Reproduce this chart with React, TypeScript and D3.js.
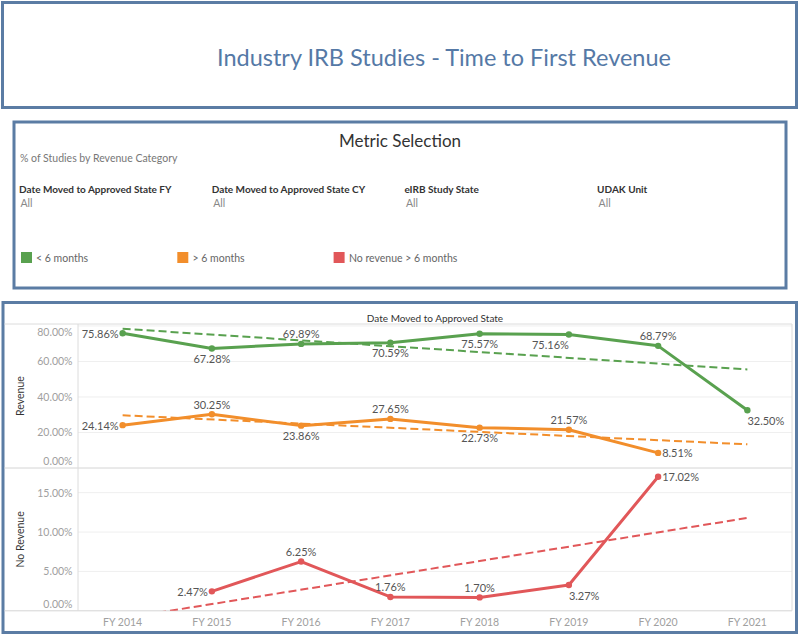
import React from "react";
import * as d3 from "d3";

// ---------- DATA ----------
const years = ["FY 2014", "FY 2015", "FY 2016", "FY 2017", "FY 2018", "FY 2019", "FY 2020", "FY 2021"];
const lessThan6Months: (number | null)[] = [0.7586, 0.6728, 0.6989, 0.7059, 0.7557, 0.7516, 0.6879, 0.325];
const moreThan6Months: (number | null)[] = [0.2414, 0.3025, 0.2386, 0.2765, 0.2273, 0.2157, 0.0851, null];
const noRevenue6Months: (number | null)[] = [null, 0.0247, 0.0625, 0.0176, 0.017, 0.0327, 0.1702, null];
const revenueTicks = [0, 0.2, 0.4, 0.6, 0.8];
const noRevenueTicks = [0, 0.05, 0.1, 0.15];
const filterLabels = ["Date Moved to Approved State FY", "Date Moved to Approved State CY", "eIRB Study State", "UDAK Unit"];
const filterValues = ["All", "All", "All", "All"];
const legendLabels = ["< 6 months", "> 6 months", "No revenue > 6 months"];

// label placement (style): L=left, R=right, A=above, B=below, BL=below ending at point, BR=below starting at point
const lessPlacement = ["L", "B", "A", "B", "B", "BL", "A", "BR"];
const morePlacement = ["L", "A", "B", "A", "B", "A", "R", ""];
const noRevPlacement = ["", "L", "A", "A", "A", "BR", "R", ""];

const GREEN = "#59a14f";
const ORANGE = "#f28e2b";
const RED = "#e15759";
const BORDER = "#5b7ca4";
const FONT = "Lato, 'Open Sans', sans-serif";

const fmt = d3.format(".2%");

function regression(vals: (number | null)[]) {
  const pts = vals.map((v, i) => [i, v] as [number, number | null]).filter((p) => p[1] != null) as [number, number][];
  const mx = d3.mean(pts, (p) => p[0])!;
  const my = d3.mean(pts, (p) => p[1])!;
  const sxy = d3.sum(pts, (p) => (p[0] - mx) * (p[1] - my));
  const sxx = d3.sum(pts, (p) => (p[0] - mx) * (p[0] - mx));
  const slope = sxy / sxx;
  return (i: number) => my + slope * (i - mx);
}

export default function App() {
  const W = 800;
  const H = 638;
  const plotL = 78;
  const plotR = 792;
  const topT = 324;
  const split = 468;
  const botB = 610.8;

  const x = d3.scaleBand<string>().domain(years).range([plotL, plotR]).padding(0);
  const cx = (i: number) => x(years[i])! + x.bandwidth() / 2;
  const yTop = d3.scaleLinear().domain([0, 0.811]).range([split, topT]);
  const yBot = d3.scaleLinear().domain([0, 0.1813]).range([botB, split]);

  const series = [
    { vals: lessThan6Months, color: GREEN, y: yTop, place: lessPlacement, clip: "clipTop" },
    { vals: moreThan6Months, color: ORANGE, y: yTop, place: morePlacement, clip: "clipTop" },
    { vals: noRevenue6Months, color: RED, y: yBot, place: noRevPlacement, clip: "clipBot" },
  ];

  const line = (y: d3.ScaleLinear<number, number>) =>
    d3
      .line<number | null>()
      .defined((d) => d != null)
      .x((_, i) => cx(i))
      .y((d) => y(d as number));

  const labelProps = (p: string, px: number, py: number) => {
    switch (p) {
      case "L":
        return { x: px - 4, y: py, anchor: "end" };
      case "R":
        return { x: px + 4, y: py, anchor: "start" };
      case "A":
        return { x: px, y: py - 10, anchor: "middle" };
      case "B":
        return { x: px, y: py + 10, anchor: "middle" };
      case "BL":
        return { x: px, y: py + 10, anchor: "end" };
      case "BR":
        return { x: px, y: py + 10.5, anchor: "start" };
      default:
        return { x: px, y: py, anchor: "middle" };
    }
  };

  const tickLabelY = (pos: number, top: number, bottom: number) => Math.max(top + 7.5, Math.min(bottom - 7, pos));

  return (
    <svg width={W} height={H} style={{ position: "absolute", left: 0, top: 0, background: "#fff" }} fontFamily={FONT}>
      <defs>
        <clipPath id="clipTop">
          <rect x={plotL} y={topT} width={plotR - plotL} height={split - topT} />
        </clipPath>
        <clipPath id="clipBot">
          <rect x={plotL} y={split} width={plotR - plotL} height={botB - split} />
        </clipPath>
      </defs>

      {/* Title panel */}
      <rect x={2.5} y={2.5} width={794} height={105} fill="#fff" stroke={BORDER} strokeWidth={3} />
      <text x={444} y={57} textAnchor="middle" dominantBaseline="central" fontSize={23.5} fill="#5579a6">
        Industry IRB Studies - Time to First Revenue
      </text>

      {/* Metric selection panel */}
      <rect x={14} y={122} width={772} height={166} fill="#fff" stroke={BORDER} strokeWidth={3} />
      <text x={400} y={140} textAnchor="middle" dominantBaseline="central" fontSize={17} fill="#333">
        Metric Selection
      </text>
      <text x={20} y={158} dominantBaseline="central" fontSize={10.5} fill="#777">
        % of Studies by Revenue Category
      </text>
      {filterLabels.map((f, i) => (
        <g key={f}>
          <text x={19 + i * 192.7} y={188.5} dominantBaseline="central" fontSize={10} fontWeight="bold" fill="#333">
            {f}
          </text>
          <text x={20.5 + i * 192.7} y={202.5} dominantBaseline="central" fontSize={10.5} fill="#888">
            {filterValues[i]}
          </text>
        </g>
      ))}
      {legendLabels.map((l, i) => (
        <g key={l}>
          <rect x={21 + i * 156.3} y={252} width={11} height={11} fill={[GREEN, ORANGE, RED][i]} />
          <text x={36 + i * 156.5} y={257.5} dominantBaseline="central" fontSize={10.5} fill="#666">
            {l}
          </text>
        </g>
      ))}

      {/* Chart panel */}
      <rect x={3} y={302.5} width={793.5} height={330} fill="#fff" stroke={BORDER} strokeWidth={3} />
      <text x={(plotL + plotR) / 2} y={317.5} textAnchor="middle" dominantBaseline="central" fontSize={10} fill="#333">
        Date Moved to Approved State
      </text>

      {/* gridlines */}
      {revenueTicks.filter((t) => t > 0).map((t) => (
        <line key={"gt" + t} x1={plotL} x2={plotR} y1={yTop(t)} y2={yTop(t)} stroke="#efefef" strokeWidth={1} />
      ))}
      {noRevenueTicks.filter((t) => t > 0).map((t) => (
        <line key={"gb" + t} x1={plotL} x2={plotR} y1={yBot(t)} y2={yBot(t)} stroke="#efefef" strokeWidth={1} />
      ))}

      {/* dividers */}
      <line x1={4.5} x2={plotR} y1={topT} y2={topT} stroke="#dcdcdc" />
      <line x1={4.5} x2={plotR} y1={split} y2={split} stroke="#d4d4d4" />
      <line x1={4.5} x2={plotR} y1={botB} y2={botB} stroke="#d4d4d4" />
      <line x1={plotL} x2={plotL} y1={topT} y2={botB} stroke="#dcdcdc" />
      <line x1={plotR} x2={plotR} y1={topT} y2={botB} stroke="#dcdcdc" />

      {/* y tick labels */}
      {revenueTicks.map((t) => (
        <text key={"yt" + t} x={72.5} y={tickLabelY(yTop(t), topT, split)} textAnchor="end" dominantBaseline="central" fontSize={10.5} fill="#a0a0a0">
          {fmt(t)}
        </text>
      ))}
      {noRevenueTicks.map((t) => (
        <text key={"yb" + t} x={72.5} y={tickLabelY(yBot(t), split, botB)} textAnchor="end" dominantBaseline="central" fontSize={10.5} fill="#a0a0a0">
          {fmt(t)}
        </text>
      ))}
      <text transform={`translate(20,${(topT + split) / 2}) rotate(-90)`} textAnchor="middle" dominantBaseline="central" fontSize={10.5} fill="#333">
        Revenue
      </text>
      <text transform={`translate(20,${(split + botB) / 2}) rotate(-90)`} textAnchor="middle" dominantBaseline="central" fontSize={10.5} fill="#333">
        No Revenue
      </text>

      {/* x labels */}
      {years.map((yr) => (
        <text key={yr} x={x(yr)! + x.bandwidth() / 2} y={621.7} textAnchor="middle" dominantBaseline="central" fontSize={10.5} fill="#a0a0a0">
          {yr}
        </text>
      ))}

      {/* trend lines */}
      {series.map((s, k) => {
        const f = regression(s.vals);
        return (
          <line
            key={"tr" + k}
            clipPath={`url(#${s.clip})`}
            x1={cx(0)}
            x2={cx(years.length - 1)}
            y1={s.y(f(0))}
            y2={s.y(f(years.length - 1))}
            stroke={s.color}
            strokeWidth={2}
            strokeDasharray="8,4"
          />
        );
      })}

      {/* lines + markers */}
      {series.map((s, k) => (
        <g key={"s" + k}>
          <path d={line(s.y)(s.vals) || ""} fill="none" stroke={s.color} strokeWidth={3} strokeLinejoin="round" />
          {s.vals.map((v, i) =>
            v == null ? null : <circle key={i} cx={cx(i)} cy={s.y(v)} r={3.2} fill={s.color} />
          )}
        </g>
      ))}

      {/* labels */}
      {series.map((s, k) =>
        s.vals.map((v, i) => {
          if (v == null) return null;
          const lp = labelProps(s.place[i], cx(i), s.y(v));
          return (
            <text key={`l${k}-${i}`} x={lp.x} y={lp.y} textAnchor={lp.anchor as any} dominantBaseline="central" fontSize={11} fill="#555">
              {fmt(v)}
            </text>
          );
        })
      )}
    </svg>
  );
}
